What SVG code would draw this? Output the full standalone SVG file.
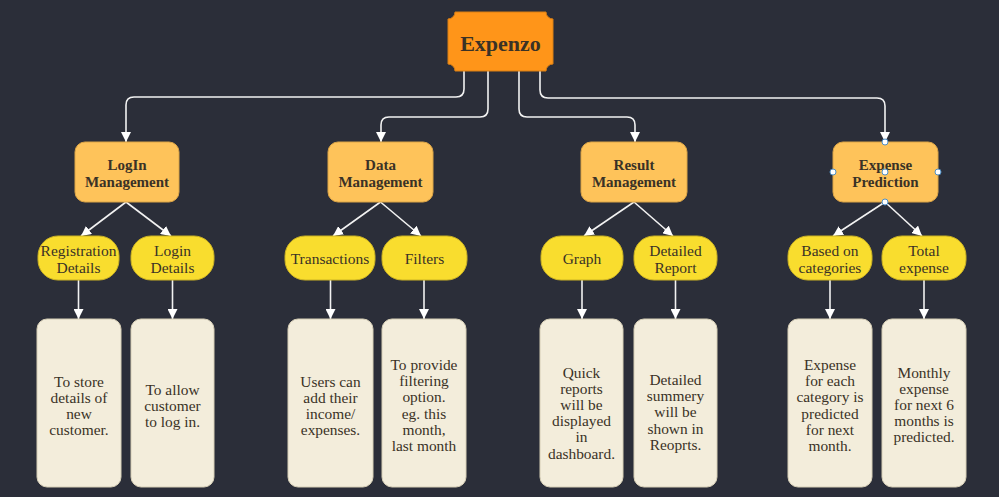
<svg xmlns="http://www.w3.org/2000/svg" width="999" height="497" viewBox="0 0 999 497">
<defs>
<style>
.t{font-family:"Liberation Serif","Times New Roman",serif;fill:#3a3226;text-anchor:middle;dominant-baseline:central}
.d{font-size:15.4px}
.root{fill:#ff9519;stroke:#d97e14;stroke-width:1}
.l2{fill:#fec35a;stroke:#dba446;stroke-width:1}
.pill{fill:#f9dd2e;stroke:#cbb224;stroke-width:1}
.box{fill:#f3eddb;stroke:#d6ceb6;stroke-width:1}
.b{font-weight:bold}
.edge{fill:none;stroke:#f2f2f2;stroke-width:1.6;marker-end:url(#arr)}
.h{fill:#ffffff;stroke:#4f8fc6;stroke-width:1}
</style>
<marker id="arr" viewBox="0 0 10 10" refX="10" refY="5" markerWidth="10" markerHeight="10" markerUnits="userSpaceOnUse" orient="auto">
<path d="M0,0 L10,5 L0,10 z" fill="#ffffff"/>
</marker>
</defs>
<rect x="0" y="0" width="999" height="497" fill="#2b2e39"/>

<g id="connectors">
<path class="edge" d="M464 71 V89 Q464 97 456 97 H134 Q126 97 126 105 V142"/>
<path class="edge" d="M488 71 V109 Q488 117 480 117 H389 Q381 117 381 125 V142"/>
<path class="edge" d="M519 71 V109 Q519 117 527 117 H627 Q635 117 635 125 V142"/>
<path class="edge" d="M540 71 V90 Q540 98 548 98 H877 Q885 98 885 106 V142"/>
<path class="edge" d="M126 202 L81 236"/>
<path class="edge" d="M126 202 L171 236"/>
<path class="edge" d="M380.5 202 L333 236"/>
<path class="edge" d="M380.5 202 L421 236"/>
<path class="edge" d="M634 202 L584 236"/>
<path class="edge" d="M634 202 L673 236"/>
<path class="edge" d="M885 202 L833 236"/>
<path class="edge" d="M885 202 L922 236"/>
<path class="edge" d="M78.5 280 V319"/>
<path class="edge" d="M172.5 280 V319"/>
<path class="edge" d="M330.5 280 V319"/>
<path class="edge" d="M424 280 V319"/>
<path class="edge" d="M582 280 V319"/>
<path class="edge" d="M675.5 280 V319"/>
<path class="edge" d="M830 280 V319"/>
<path class="edge" d="M924 280 V319"/>
</g>

<g id="expenzo">
<path class="root" d="M455 12 H546 A7 7 0 0 0 553 19 V64 A7 7 0 0 0 546 71 H455 A7 7 0 0 0 448 64 V19 A7 7 0 0 0 455 12 Z"/>
<text class="t b" x="500.5" y="43" font-size="22">Expenzo</text>
</g>

<g id="login-management">
<rect class="l2" x="75" y="142" width="104" height="60" rx="10"/>
<text class="t b" x="127" y="165" font-size="15">LogIn</text>
<text class="t b" x="127" y="182" font-size="15">Management</text>
</g>
<g id="data-management">
<rect class="l2" x="328" y="142" width="105" height="60" rx="10"/>
<text class="t b" x="380.5" y="165" font-size="15">Data</text>
<text class="t b" x="380.5" y="182" font-size="15">Management</text>
</g>
<g id="result-management">
<rect class="l2" x="581" y="142" width="106" height="60" rx="10"/>
<text class="t b" x="634" y="165" font-size="15">Result</text>
<text class="t b" x="634" y="182" font-size="15">Management</text>
</g>
<g id="expense-prediction">
<rect class="l2" x="833" y="142" width="105" height="60" rx="10"/>
<text class="t b" x="885.5" y="165" font-size="15">Expense</text>
<text class="t b" x="885.5" y="182" font-size="15">Prediction</text>
</g>

<g id="registration-details">
<rect class="pill" x="38" y="236" width="81" height="44" rx="20"/>
<text class="t" x="78.5" y="250" font-size="15.5">Registration</text>
<text class="t" x="78.5" y="267" font-size="15.5">Details</text>
</g>
<g id="login-details">
<rect class="pill" x="131" y="236" width="83" height="44" rx="20"/>
<text class="t" x="172.5" y="250" font-size="15.5">Login</text>
<text class="t" x="172.5" y="267" font-size="15.5">Details</text>
</g>
<g id="transactions">
<rect class="pill" x="285" y="236" width="90" height="44" rx="20"/>
<text class="t" x="330" y="258" font-size="15.5">Transactions</text>
</g>
<g id="filters">
<rect class="pill" x="382" y="236" width="85" height="44" rx="20"/>
<text class="t" x="424.5" y="258" font-size="15.5">Filters</text>
</g>
<g id="graph">
<rect class="pill" x="541" y="236" width="82" height="44" rx="20"/>
<text class="t" x="582" y="258" font-size="15.5">Graph</text>
</g>
<g id="detailed-report">
<rect class="pill" x="634" y="236" width="83" height="44" rx="20"/>
<text class="t" x="675.5" y="250" font-size="15.5">Detailed</text>
<text class="t" x="675.5" y="267" font-size="15.5">Report</text>
</g>
<g id="based-on-categories">
<rect class="pill" x="788" y="236" width="84" height="44" rx="20"/>
<text class="t" x="830" y="250" font-size="15.5">Based on</text>
<text class="t" x="830" y="267" font-size="15.5">categories</text>
</g>
<g id="total-expense">
<rect class="pill" x="882" y="236" width="84" height="44" rx="20"/>
<text class="t" x="924" y="250" font-size="15.5">Total</text>
<text class="t" x="924" y="267" font-size="15.5">expense</text>
</g>

<g id="desc-registration">
<rect class="box" x="37" y="319" width="84" height="168" rx="10"/>
<text class="t d" x="79" y="381">To store</text>
<text class="t d" x="79" y="397.2">details of</text>
<text class="t d" x="79" y="413.4">new</text>
<text class="t d" x="79" y="429.6">customer.</text>
</g>
<g id="desc-login">
<rect class="box" x="131" y="319" width="83" height="168" rx="10"/>
<text class="t d" x="172.5" y="389">To allow</text>
<text class="t d" x="172.5" y="405.2">customer</text>
<text class="t d" x="172.5" y="421.4">to log in.</text>
</g>
<g id="desc-transactions">
<rect class="box" x="288" y="319" width="85" height="168" rx="10"/>
<text class="t d" x="330.5" y="381">Users can</text>
<text class="t d" x="330.5" y="397.2">add their</text>
<text class="t d" x="330.5" y="413.4">income/</text>
<text class="t d" x="330.5" y="429.6">expenses.</text>
</g>
<g id="desc-filters">
<rect class="box" x="382" y="319" width="84" height="168" rx="10"/>
<text class="t d" x="424" y="364.5">To provide</text>
<text class="t d" x="424" y="380.7">filtering</text>
<text class="t d" x="424" y="396.9">option.</text>
<text class="t d" x="424" y="413.1">eg. this</text>
<text class="t d" x="424" y="429.3">month,</text>
<text class="t d" x="424" y="445.5">last month</text>
</g>
<g id="desc-graph">
<rect class="box" x="540" y="319" width="83" height="168" rx="10"/>
<text class="t d" x="581.5" y="372">Quick</text>
<text class="t d" x="581.5" y="388.2">reports</text>
<text class="t d" x="581.5" y="404.4">will be</text>
<text class="t d" x="581.5" y="420.6">displayed</text>
<text class="t d" x="581.5" y="436.8">in</text>
<text class="t d" x="581.5" y="453">dashboard.</text>
</g>
<g id="desc-report">
<rect class="box" x="634" y="319" width="83" height="168" rx="10"/>
<text class="t d" x="675.5" y="379.5">Detailed</text>
<text class="t d" x="675.5" y="395.7">summery</text>
<text class="t d" x="675.5" y="411.9">will be</text>
<text class="t d" x="675.5" y="428.1">shown in</text>
<text class="t d" x="675.5" y="444.3">Reoprts.</text>
</g>
<g id="desc-categories">
<rect class="box" x="788" y="319" width="84" height="168" rx="10"/>
<text class="t d" x="830" y="364.5">Expense</text>
<text class="t d" x="830" y="380.7">for each</text>
<text class="t d" x="830" y="396.9">category is</text>
<text class="t d" x="830" y="413.1">predicted</text>
<text class="t d" x="830" y="429.3">for next</text>
<text class="t d" x="830" y="445.5">month.</text>
</g>
<g id="desc-total">
<rect class="box" x="882" y="319" width="84" height="168" rx="10"/>
<text class="t d" x="924" y="372">Monthly</text>
<text class="t d" x="924" y="388.2">expense</text>
<text class="t d" x="924" y="404.4">for next 6</text>
<text class="t d" x="924" y="420.6">months is</text>
<text class="t d" x="924" y="436.8">predicted.</text>
</g>

<g id="selection-handles">
<circle class="h" cx="885" cy="142" r="3"/>
<circle class="h" cx="833" cy="172" r="3"/>
<circle class="h" cx="885" cy="172" r="3"/>
<circle class="h" cx="938" cy="172" r="3"/>
<circle class="h" cx="885" cy="202" r="3"/>
</g>
</svg>
